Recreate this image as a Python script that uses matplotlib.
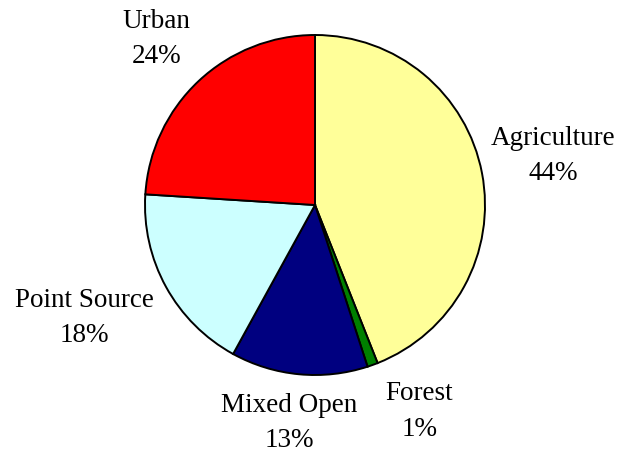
import numpy as np
import matplotlib.pyplot as plt

# sources of load, clockwise from 12 o'clock
labels = ['Agriculture', 'Forest', 'Mixed Open', 'Point Source', 'Urban']
shares = [44, 1, 13, 18, 24]
colors = ['#FFFF99', '#008000', '#000080', '#CCFFFF', '#FF0000']
label_dist = [1.43, 1.36, 1.29, 1.51, 1.35]
label_nudge = [0.8, 7.0, -1.4, -2.7, 0.4]  # degrees off the wedge middle

plt.rcParams['font.family'] = ['Liberation Serif', 'DejaVu Serif']

fig = plt.figure(figsize=(6.21, 4.55), dpi=100)
ax = fig.add_axes([0, 0, 1, 1])

wedges, _ = ax.pie(shares, colors=colors, startangle=90, counterclock=False,
                   wedgeprops=dict(edgecolor='black', linewidth=1.4))

for w, lab, pct, d, nd in zip(wedges, labels, shares, label_dist, label_nudge):
    ang = np.deg2rad((w.theta1 + w.theta2) / 2 + nd)
    ax.text(d * np.cos(ang), d * np.sin(ang), f'{lab}\n{pct}%',
            ha='center', va='center', fontsize=19.5, linespacing=1.55)

# 170 px per unit, pie centre at (315, 205) from top-left
ax.set_xlim(-315 / 170, (621 - 315) / 170)
ax.set_ylim(-250 / 170, (455 - 250) / 170)
ax.set_aspect('equal')
ax.axis('off')

fig.savefig('out.png', dpi=100)
